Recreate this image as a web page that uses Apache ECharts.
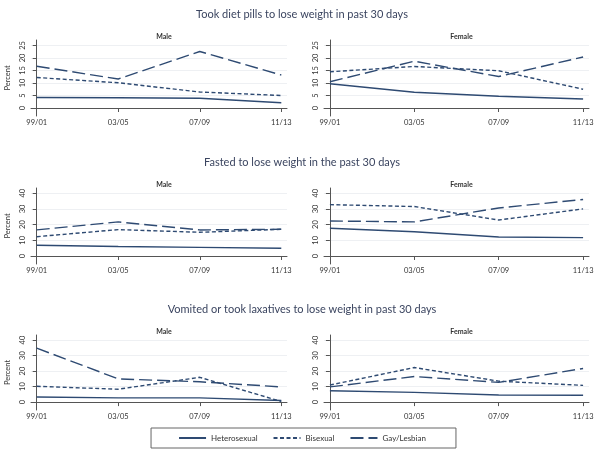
<!DOCTYPE html>
<html><head><meta charset="utf-8">
<script src="https://cdn.jsdelivr.net/npm/echarts@6/dist/echarts.min.js"></script>
<style>html,body{margin:0;padding:0;background:#fff}#c{width:604px;height:465px}</style>
</head><body><div id="c"></div>
<script>
const categories = ['99/01','03/05','07/09','11/13'];
const groups = ['Heterosexual','Bisexual','Gay/Lesbian'];
const rowTitles = ['Took diet pills to lose weight in past 30 days','Fasted to lose weight in the past 30 days','Vomited or took laxatives to lose weight in past 30 days'];
const panelTitles = ['Male','Female'];
const yTicksTop = [0,5,10,15,20,25];
const yTicksOther = [0,10,20,30,40];

// diet pills
const pillsMaleHetero = [4.2,4.1,3.9,2.1];
const pillsMaleBi = [12.2,10.1,6.4,5.0];
const pillsMaleGay = [16.7,11.6,22.6,13.2];
const pillsFemaleHetero = [9.7,6.3,4.7,3.6];
const pillsFemaleBi = [14.5,16.6,14.9,7.5];
const pillsFemaleGay = [10.5,18.7,12.6,20.4];
// fasted
const fastMaleHetero = [6.8,6.0,5.5,4.9];
const fastMaleBi = [12.3,16.8,15.1,17.0];
const fastMaleGay = [16.6,21.7,16.6,17.0];
const fastFemaleHetero = [17.7,15.4,12.1,11.7];
const fastFemaleBi = [32.7,31.5,22.9,30.0];
const fastFemaleGay = [22.3,21.7,30.6,36.0];
// vomited / laxatives
const vomMaleHetero = [3.3,2.7,2.7,1.0];
const vomMaleBi = [10.2,8.3,16.0,0.4];
const vomMaleGay = [34.8,15.0,13.1,9.8];
const vomFemaleHetero = [7.3,6.3,4.6,4.4];
const vomFemaleBi = [11.0,22.3,13.5,10.8];
const vomFemaleGay = [9.8,16.5,12.7,21.7];

const panels = [
  [pillsMaleHetero,pillsMaleBi,pillsMaleGay],
  [pillsFemaleHetero,pillsFemaleBi,pillsFemaleGay],
  [fastMaleHetero,fastMaleBi,fastMaleGay],
  [fastFemaleHetero,fastFemaleBi,fastFemaleGay],
  [vomMaleHetero,vomMaleBi,vomMaleGay],
  [vomFemaleHetero,vomFemaleBi,vomFemaleGay]
];

const FONT = 'Lato';
const LINE = '#2e4a72';
const TXT = '#333';
const rowTop = [40,188,335];
const rowH = [76,76,75];
const colLeft = [31,324];
const colW = [256,265];
const dashes = ['solid',[4,2.5],[13,5]];

const grids=[], xAxes=[], yAxes=[], series=[], titles=[];
rowTitles.forEach((t,r)=>{
  titles.push({text:t,left:'center',top:rowTop[r]-36,textStyle:{fontFamily:FONT,fontSize:11,fontWeight:'normal',color:'#3b4560'}});
});
for(let r=0;r<3;r++){
  for(let c=0;c<2;c++){
    const i=r*2+c;
    grids.push({left:colLeft[c],top:rowTop[r],width:colW[c],height:rowH[r]});
    titles.push({text:panelTitles[c],left:colLeft[c]+colW[c]/2,top:rowTop[r]-12,textAlign:'center',textStyle:{fontFamily:FONT,fontSize:7,fontWeight:'bold',color:TXT}});
    xAxes.push({type:'value',gridIndex:i,min:-0.07,max:3.07,
      axisLine:{show:true,lineStyle:{color:'#555',width:1}},
      axisTick:{show:true,length:4,lineStyle:{color:'#555'},customValues:[0,1,2,3]},
      axisLabel:{customValues:[0,1,2,3],formatter:v=>categories[Math.round(v)],fontFamily:FONT,fontSize:7.5,color:TXT,margin:3},
      splitLine:{show:false}});
    const ticks = r===0? yTicksTop : yTicksOther;
    const yr = r===0? [-3.2,27.2] : [-5.1,43.3];
    yAxes.push({type:'value',gridIndex:i,min:yr[0],max:yr[1],
      name:c===0?'Percent':'',nameLocation:'middle',nameGap:19,nameRotate:90,
      nameTextStyle:{fontFamily:FONT,fontSize:7.5,color:TXT},
      axisLine:{show:true,lineStyle:{color:'#555',width:1}},
      axisTick:{show:true,length:4,lineStyle:{color:'#555'},customValues:ticks},
      axisLabel:{customValues:ticks,rotate:90,fontFamily:FONT,fontSize:7.5,color:TXT,margin:4},
      splitLine:{show:true,lineStyle:{color:'#eef0f3',width:1}}});
    panels[i].forEach((vals,g)=>{
      series.push({type:'line',name:groups[g],xAxisIndex:i,yAxisIndex:i,
        data:vals.map((v,k)=>[k,v]),symbol:'none',silent:true,
        lineStyle:{color:LINE,width:1.4,type:dashes[g]},itemStyle:{color:LINE}});
    });
  }
}

const chart = echarts.init(document.getElementById('c'),null,{renderer:'canvas'});
chart.setOption({
  animation:false,
  backgroundColor:'#fff',
  title:titles,
  grid:grids, xAxis:xAxes, yAxis:yAxes, series:series,
  legend:{data:groups,left:'center',top:428,
    borderColor:'#666',borderWidth:1,padding:[6,30,6,27],itemGap:15,itemWidth:27,itemHeight:8,
    itemStyle:{opacity:0},
    textStyle:{fontFamily:FONT,fontSize:8,color:TXT}}
});
</script></body></html>
